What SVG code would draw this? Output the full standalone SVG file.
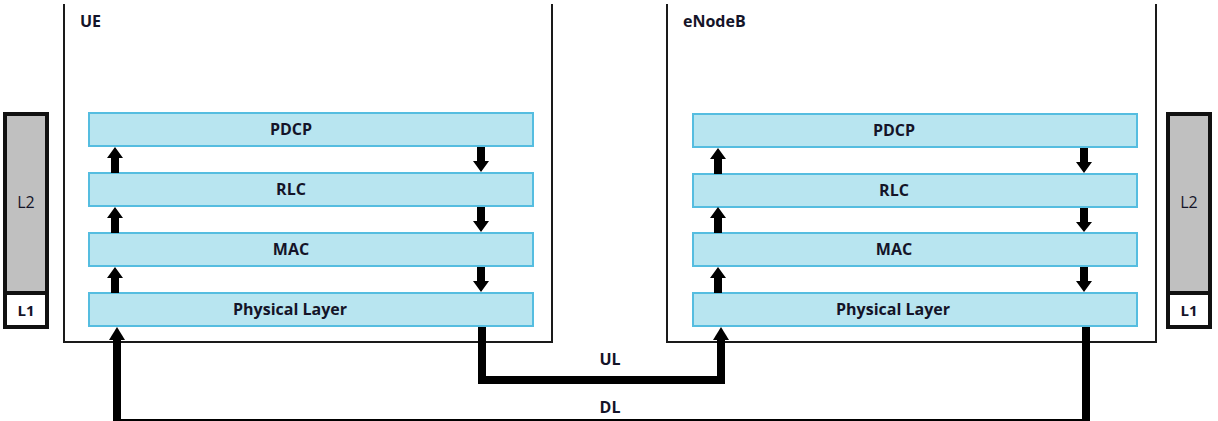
<svg xmlns="http://www.w3.org/2000/svg" width="1218" height="421" viewBox="0 0 1218 421">
<style>
.frame{fill:none;stroke:#1a1a1a;stroke-width:2}
.layer{fill:#b8e5f0;stroke:#55bde0;stroke-width:2}
.lt{font-family:"Open Sans","Liberation Sans",sans-serif;font-weight:700;font-size:16px;fill:#141428;text-anchor:middle}
.title{font-family:"Open Sans","Liberation Sans",sans-serif;font-weight:700;font-size:16px;fill:#141428}
.stack{stroke:#111;stroke-width:4}
.arr{fill:#000}
.wire{fill:none;stroke:#000;stroke-width:8}
</style>
<rect width="1218" height="421" fill="#fff"/>

<g id="stack-left">
<rect x="5" y="114" width="42" height="179" fill="#c0c0c0" class="stack"/>
<rect x="5" y="293" width="42" height="34" fill="#fff" class="stack"/>
<text x="26" y="208" class="lt" font-weight="400" style="font-weight:400">L2</text>
<text x="26" y="316" class="lt" style="font-size:15px">L1</text>
</g>
<g id="stack-right">
<rect x="1168" y="114" width="42" height="179" fill="#c0c0c0" class="stack"/>
<rect x="1168" y="293" width="42" height="34" fill="#fff" class="stack"/>
<text x="1189" y="208" class="lt" style="font-weight:400">L2</text>
<text x="1189" y="316" class="lt" style="font-size:15px">L1</text>
</g>

<g id="ue">
<path class="frame" d="M64,4 V342 H552 V4"/>
<text x="80" y="27" class="title">UE</text>
<g id="ue-pdcp"><rect class="layer" x="89" y="113" width="444" height="33"/><text x="291" y="135" class="lt">PDCP</text></g>
<g id="ue-rlc"><rect class="layer" x="89" y="173" width="444" height="33"/><text x="291" y="195" class="lt">RLC</text></g>
<g id="ue-mac"><rect class="layer" x="89" y="233" width="444" height="33"/><text x="291" y="255" class="lt">MAC</text></g>
<g id="ue-phy"><rect class="layer" x="89" y="293" width="444" height="33"/><text x="290" y="315" class="lt">Physical Layer</text></g>
</g>

<g id="enodeb">
<path class="frame" d="M667,4 V342 H1156 V4"/>
<text x="683" y="27" class="title">eNodeB</text>
<g id="enb-pdcp"><rect class="layer" x="693" y="114" width="444" height="33"/><text x="894" y="136" class="lt">PDCP</text></g>
<g id="enb-rlc"><rect class="layer" x="693" y="174" width="444" height="33"/><text x="894" y="196" class="lt">RLC</text></g>
<g id="enb-mac"><rect class="layer" x="693" y="233" width="444" height="33"/><text x="894" y="255" class="lt">MAC</text></g>
<g id="enb-phy"><rect class="layer" x="693" y="293" width="444" height="33"/><text x="893" y="315" class="lt">Physical Layer</text></g>
</g>

<g id="connectors">
<path class="arr" d="M111,173 V158 H107 L115,147 L123,158 H119 V173 Z"/>
<path class="arr" d="M111,233 V218 H107 L115,207 L123,218 H119 V233 Z"/>
<path class="arr" d="M111,293 V278 H107 L115,267 L123,278 H119 V293 Z"/>
<path class="arr" d="M477,147 V161 H473 L481,172 L489,161 H485 V147 Z"/>
<path class="arr" d="M477,207 V221 H473 L481,232 L489,221 H485 V207 Z"/>
<path class="arr" d="M477,267 V281 H473 L481,292 L489,281 H485 V267 Z"/>
<path class="arr" d="M714,174 V159 H710 L718,148 L726,159 H722 V174 Z"/>
<path class="arr" d="M714,233 V218 H710 L718,207 L726,218 H722 V233 Z"/>
<path class="arr" d="M714,293 V278 H710 L718,267 L726,278 H722 V293 Z"/>
<path class="arr" d="M1080,148 V162 H1076 L1084,173 L1092,162 H1088 V148 Z"/>
<path class="arr" d="M1080,208 V222 H1076 L1084,232 L1092,222 H1088 V208 Z"/>
<path class="arr" d="M1080,267 V281 H1076 L1084,292 L1092,281 H1088 V267 Z"/>

<path class="wire" d="M482,327 V380 H721 V339"/>
<path class="arr" d="M713,340 L721,327 L729,340 Z"/>
<text x="610" y="365" class="lt">UL</text>

<path class="wire" d="M1086,327 V423 H117 V339"/>
<path class="arr" d="M109,340 L117,327 L125,340 Z"/>
<text x="610" y="413" class="lt">DL</text>
</g>
</svg>
